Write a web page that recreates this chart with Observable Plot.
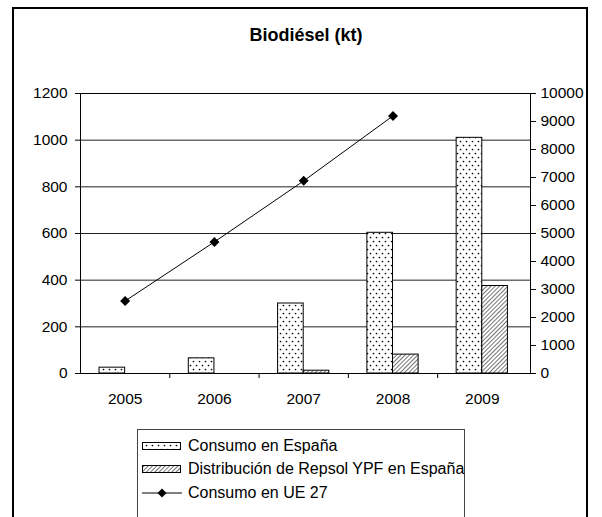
<!DOCTYPE html>
<html>
<head>
<meta charset="utf-8">
<script src="https://cdn.jsdelivr.net/npm/d3@7"></script>
<script src="https://cdn.jsdelivr.net/npm/@observablehq/plot@0.6"></script>
<style>
  html, body { margin: 0; padding: 0; background: #fff; overflow: hidden; }
  #wrap { position: relative; width: 602px; height: 517px; overflow: hidden; font-family: "Liberation Sans", Arial, sans-serif; }
  #border { position: absolute; left: 12px; top: 7px; width: 576px; height: 540px; border: 2px solid #000; box-sizing: border-box; }
  #title { position: absolute; left: 0; width: 612px; top: 25px; text-align: center; font-weight: bold; font-size: 18px; color: #000; }
  #chart { position: absolute; left: 0; top: 0; }
  #legend { position: absolute; left: 137px; top: 429px; width: 328px; height: 120px; border: 1px solid #444; box-sizing: border-box; padding-top: 4px; background: #fff; }
  .row { display: flex; align-items: center; height: 23.5px; font-size: 16px; color: #000; white-space: nowrap; }
  .row svg { margin-left: 4px; margin-right: 6px; flex: none; }
</style>
</head>
<body>
<svg width="0" height="0" style="position:absolute">
  <defs>
    <pattern id="dots" patternUnits="userSpaceOnUse" width="6" height="8">
      <rect width="6" height="8" fill="#fff"/>
      <circle cx="1.5" cy="1.5" r="0.85" fill="#000"/>
      <circle cx="4.5" cy="5.5" r="0.85" fill="#000"/>
    </pattern>
    <pattern id="hatch" patternUnits="userSpaceOnUse" width="3" height="3" patternTransform="rotate(45)">
      <rect width="3" height="3" fill="#fff"/>
      <line x1="0" y1="0" x2="0" y2="3" stroke="#000" stroke-width="1.1"/>
    </pattern>
  </defs>
</svg>
<div id="wrap">
  <div id="border"></div>
  <div id="title">Biodiésel (kt)</div>
  <div id="chart"></div>
  <div id="legend"></div>
</div>
<script>
// ---- data ----
const years = [2005, 2006, 2007, 2008, 2009];
const consumoEspana = [25, 65, 300, 603, 1010];
const repsolEspana = [0, 0, 12, 81, 375];
const consumoUE27 = [2590, 4700, 6880, 9200, null];
const leftTicks = [0, 200, 400, 600, 800, 1000, 1200];
const rightTicks = [0, 1000, 2000, 3000, 4000, 5000, 6000, 7000, 8000, 9000, 10000];
const seriesNames = ["Consumo en España", "Distribución de Repsol YPF en España", "Consumo en UE 27"];

// ---- derived tables ----
const ratio = 1200 / 10000; // right axis -> left axis units
const barW = 0.287;
const tConsumo = years.map((y, i) => ({year: y, v: consumoEspana[i]}));
const tRepsol = years.map((y, i) => ({year: y, v: repsolEspana[i]})).filter(d => d.v > 0);
const tUE = years.map((y, i) => ({year: y, v: consumoUE27[i]})).filter(d => d.v != null);
const boundaries = years.slice(0, -1).map(y => y + 0.5);

const chart = Plot.plot({
  width: 602,
  height: 420,
  marginLeft: 80,
  marginRight: 72,
  marginTop: 93,
  marginBottom: 47,
  style: {fontFamily: '"Liberation Sans", Arial, sans-serif', fontSize: "15.5px", color: "#000", background: "transparent"},
  x: {type: "linear", domain: [2004.5, 2009.54]},
  y: {type: "linear", domain: [0, 1200]},
  marks: [
    Plot.ruleY(leftTicks, {stroke: "#222", strokeWidth: 1}),
    Plot.rectY(tConsumo, {x1: d => d.year - barW, x2: d => d.year, y1: 0, y2: "v", fill: "url(#dots)", stroke: "#000", strokeWidth: 1}),
    Plot.rectY(tRepsol, {x1: d => d.year, x2: d => d.year + barW, y1: 0, y2: "v", fill: "url(#hatch)", stroke: "#000", strokeWidth: 1}),
    Plot.line(tUE, {x: "year", y: d => d.v * ratio, stroke: "#000", strokeWidth: 1}),
    Plot.dot(tUE, {x: "year", y: d => d.v * ratio, symbol: "diamond2", r: 4.5, fill: "#000", stroke: "none"}),
    Plot.frame({stroke: "#000", strokeWidth: 1}),
    Plot.axisY(leftTicks, {anchor: "left", tickSize: 5, tickPadding: 8, label: null, tickFormat: d => String(d)}),
    Plot.axisY(rightTicks.map(d => d * ratio), {anchor: "right", tickSize: 5, tickPadding: 5, label: null, tickFormat: d => String(Math.round(d / ratio))}),
    Plot.axisX(boundaries, {anchor: "bottom", tickSize: 5, tickFormat: () => "", label: null}),
    Plot.axisX(years, {anchor: "bottom", tickSize: 0, tickPadding: 19, label: null, tickFormat: d => String(d)})
  ]
});
document.getElementById("chart").appendChild(chart);

// ---- legend ----
const legend = document.getElementById("legend");
const ns = "http://www.w3.org/2000/svg";
seriesNames.forEach((name, i) => {
  const row = document.createElement("div");
  row.className = "row";
  const sw = document.createElementNS(ns, "svg");
  sw.setAttribute("width", 40);
  sw.setAttribute("height", 12);
  if (i < 2) {
    const r = document.createElementNS(ns, "rect");
    r.setAttribute("x", 0.5); r.setAttribute("y", 2.5);
    r.setAttribute("width", 38); r.setAttribute("height", 7);
    r.setAttribute("fill", i === 0 ? "url(#dots)" : "url(#hatch)");
    r.setAttribute("stroke", "#000");
    sw.appendChild(r);
  } else {
    const l = document.createElementNS(ns, "line");
    l.setAttribute("x1", 0); l.setAttribute("x2", 40);
    l.setAttribute("y1", 6); l.setAttribute("y2", 6);
    l.setAttribute("stroke", "#000");
    sw.appendChild(l);
    const p = document.createElementNS(ns, "path");
    p.setAttribute("d", "M20,1.5L24.5,6L20,10.5L15.5,6Z");
    p.setAttribute("fill", "#000");
    sw.appendChild(p);
  }
  row.appendChild(sw);
  const t = document.createElement("span");
  t.textContent = name;
  row.appendChild(t);
  legend.appendChild(row);
});
</script>
</body>
</html>
